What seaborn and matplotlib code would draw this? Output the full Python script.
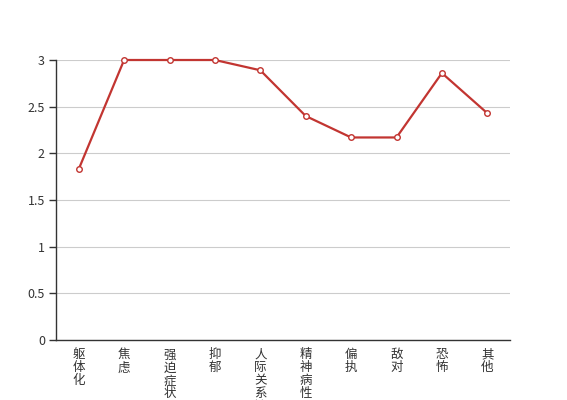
import matplotlib
matplotlib.use("Agg")
import matplotlib.pyplot as plt
import seaborn as sns
import pandas as pd

categories = ["躯体化", "焦虑", "强迫症状", "抑郁", "人际关系敏感", "精神病性", "偏执", "敌对", "恐怖", "其他"]
values = [1.83, 3.0, 3.0, 3.0, 2.89, 2.40, 2.17, 2.17, 2.86, 2.43]
y_ticks = [0, 0.5, 1, 1.5, 2, 2.5, 3]
y_tick_labels = ["0", "0.5", "1", "1.5", "2", "2.5", "3"]

sns.set_style("white")
plt.rcParams['font.family'] = ['Noto Sans CJK SC', 'DejaVu Sans']

df = pd.DataFrame({"cat": categories, "val": values, "pos": range(len(categories))})

fig = plt.figure(figsize=(5.67, 4.0), dpi=100)
ax = fig.add_axes([56/567, 1 - 340/400, (510-56)/567, (340-60)/400])

sns.lineplot(data=df, x="pos", y="val", ax=ax, color="#c23531", linewidth=1.6,
             marker="o", markersize=4, markerfacecolor="white",
             markeredgecolor="#c23531", markeredgewidth=1.0, zorder=3)
for ln in ax.lines:
    ln.set_clip_on(False)

n = len(categories)
ax.set_xlim(-0.5, n - 0.5)
ax.set_ylim(0, 3)
ax.set_yticks(y_ticks)
ax.set_yticklabels(y_tick_labels, fontsize=9, color="#333333")
ax.yaxis.grid(True, color="#cccccc", linewidth=0.8)
ax.set_axisbelow(True)

ax.set_xticks(range(n))
ax.set_xticklabels(["\n".join(c) for c in categories], fontsize=9, color="#333333",
                   linespacing=1.0, va="top")
ax.tick_params(axis="x", length=0, pad=6)
ax.set_xticks([i - 0.5 for i in range(n + 1)], minor=True)
ax.tick_params(axis="x", which="minor", length=5, color="#333333", width=1)
ax.tick_params(axis="y", length=5, color="#333333", width=1, pad=3, left=True)

for s in ["top", "right"]:
    ax.spines[s].set_visible(False)
for s in ["left", "bottom"]:
    ax.spines[s].set_color("#333333")
    ax.spines[s].set_linewidth(1)

ax.set_xlabel("")
ax.set_ylabel("")

fig.savefig("out.png", dpi=100)
